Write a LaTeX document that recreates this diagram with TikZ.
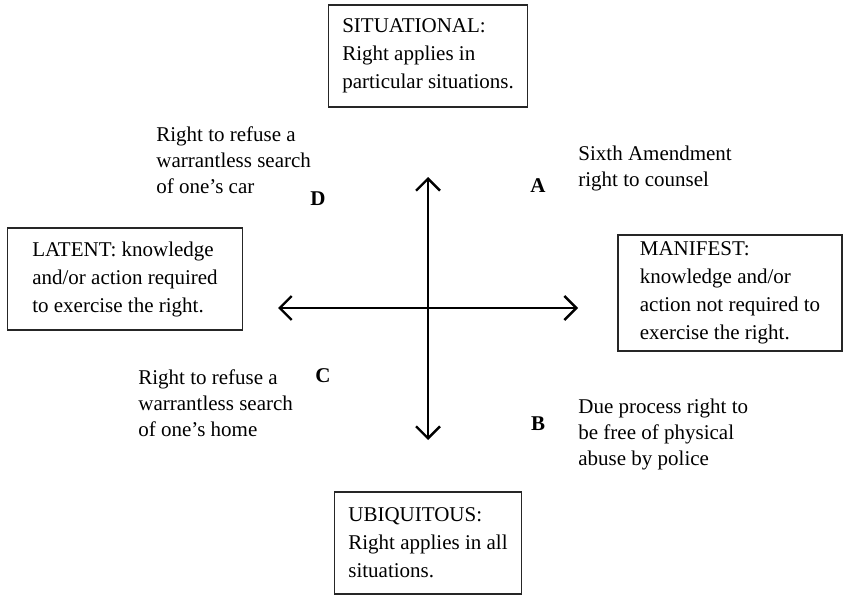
\documentclass[tikz,border=0pt]{standalone}
\usepackage{fontspec}
\setmainfont{Liberation Serif}
\usetikzlibrary{arrows.meta}

\begin{document}
\begin{tikzpicture}[x=0.5pt,y=-0.5pt,
  >={Straight Barb[length=6pt,width=12pt,line width=1.2pt]},
  box/.style={draw=black!85,line width=0.7pt,align=left,inner xsep=7pt,
    font=\fontsize{10.5}{14}\selectfont},
  lbl/.style={align=left,anchor=north west,inner sep=0pt,
    font=\fontsize{10.5}{13}\selectfont},
  letter/.style={inner sep=0pt,font=\bfseries\fontsize{10.5}{13}\selectfont}]

\useasboundingbox (0,0) rectangle (845,599);

% boxes
\node[box,minimum height=51pt] (sit) at (428,56)
  {SITUATIONAL:\\Right applies in\\particular situations.};
\node[box,minimum height=51pt] (ubi) at (428,543)
  {UBIQUITOUS:\\Right applies in all\\situations.};
\node[box,minimum width=117.5pt,minimum height=51pt] (lat) at (125,279)
  {LATENT: knowledge\\and/or action required\\to exercise the right.};
\node[box,minimum width=112pt,minimum height=55pt] (man) at (730,293)
  {MANIFEST:\\knowledge and/or\\action not required to\\exercise the right.};

% axes
\coordinate (n) at (428,177);
\coordinate (s) at (428,440);
\coordinate (w) at (278,308);
\coordinate (e) at (578,308);
\draw[<->,line width=1.2pt] (n) -- (s);
\draw[<->,line width=1.2pt] (w) -- (e);

% quadrant letters
\node[letter] (qa) at (538,186) {A};
\node[letter] (qb) at (538,424) {B};
\node[letter] (qc) at (323,376) {C};
\node[letter] (qd) at (318,199) {D};

% examples
\node[lbl] (car) at (156,126) {Right to refuse a\\warrantless search\\of one’s car};
\node[lbl] (home) at (138,369) {Right to refuse a\\warrantless search\\of one’s home};
\node[lbl] (cnsl) at (578,146) {Sixth Amendment\\right to counsel};
\node[lbl] (abuse) at (578,399) {Due process right to\\be free of physical\\abuse by police};

\end{tikzpicture}
\end{document}
